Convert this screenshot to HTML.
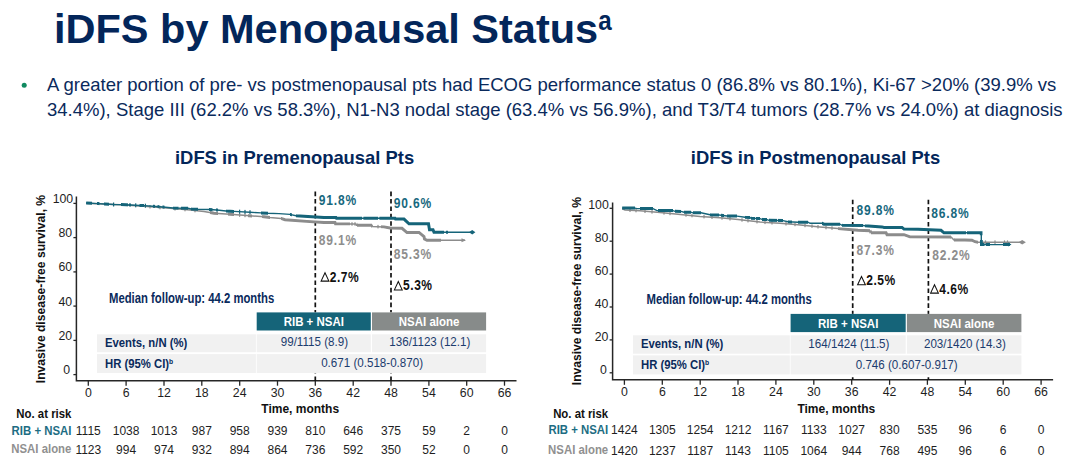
<!DOCTYPE html>
<html><head><meta charset="utf-8"><style>
html,body{margin:0;padding:0;background:#fff;width:1080px;height:476px;overflow:hidden}
svg{display:block;font-family:"Liberation Sans", sans-serif}
</style></head><body>
<svg width="1080" height="476" viewBox="0 0 1080 476">
<text x="54" y="43" font-size="41.5" font-weight="bold" fill="#03265a">iDFS by Menopausal Status</text>
<text transform="translate(598.3,30.2) scale(0.88,1)" font-size="27.5" font-weight="bold" fill="#03265a">a</text>
<circle cx="24.2" cy="85.2" r="2.5" fill="#108a60"/>
<text x="47" y="90.9" font-size="18.5" font-weight="normal" fill="#0a2a5c" text-anchor="start" >A greater portion of pre- vs postmenopausal pts had ECOG performance status 0 (86.8% vs 80.1%), Ki-67 &gt;20% (39.9% vs</text>
<text x="47" y="115.6" font-size="18.5" font-weight="normal" fill="#0a2a5c" text-anchor="start" >34.4%), Stage III (62.2% vs 58.3%), N1-N3 nodal stage (63.4% vs 56.9%), and T3/T4 tumors (28.7% vs 24.0%) at diagnosis</text>
<text x="175" y="164" font-size="18.4" font-weight="bold" fill="#03265a">iDFS in Premenopausal Pts</text>
<text x="690.8" y="164" font-size="18.4" font-weight="bold" fill="#03265a">iDFS in Postmenopausal Pts</text>
<path d="M76.4,196.6 L76.4,380.7 L516.5,380.7" fill="none" stroke="#262626" stroke-width="1.5"/>
<path d="M73.4,203.4 L76.4,203.4" stroke="#262626" stroke-width="1.3"/>
<text x="73.2" y="202.8" font-size="12.3" font-weight="normal" fill="#1e1e1e" text-anchor="end" >100</text>
<path d="M73.4,237.6 L76.4,237.6" stroke="#262626" stroke-width="1.3"/>
<text x="72.1" y="237.0" font-size="12.3" font-weight="normal" fill="#1e1e1e" text-anchor="end" >80</text>
<path d="M73.4,271.9 L76.4,271.9" stroke="#262626" stroke-width="1.3"/>
<text x="72.1" y="271.3" font-size="12.3" font-weight="normal" fill="#1e1e1e" text-anchor="end" >60</text>
<path d="M73.4,306.1 L76.4,306.1" stroke="#262626" stroke-width="1.3"/>
<text x="72.1" y="305.5" font-size="12.3" font-weight="normal" fill="#1e1e1e" text-anchor="end" >40</text>
<path d="M73.4,340.4 L76.4,340.4" stroke="#262626" stroke-width="1.3"/>
<text x="72.1" y="339.8" font-size="12.3" font-weight="normal" fill="#1e1e1e" text-anchor="end" >20</text>
<path d="M73.4,374.6 L76.4,374.6" stroke="#262626" stroke-width="1.3"/>
<text x="70.1" y="374.0" font-size="12.3" font-weight="normal" fill="#1e1e1e" text-anchor="end" >0</text>
<path d="M88.3,380.7 L88.3,385.7" stroke="#262626" stroke-width="1.3"/>
<text x="88.3" y="396.8" font-size="12.3" font-weight="normal" fill="#1e1e1e" text-anchor="middle" >0</text>
<path d="M126.1,380.7 L126.1,385.7" stroke="#262626" stroke-width="1.3"/>
<text x="126.1" y="396.8" font-size="12.3" font-weight="normal" fill="#1e1e1e" text-anchor="middle" >6</text>
<path d="M164.0,380.7 L164.0,385.7" stroke="#262626" stroke-width="1.3"/>
<text x="164.0" y="396.8" font-size="12.3" font-weight="normal" fill="#1e1e1e" text-anchor="middle" >12</text>
<path d="M201.8,380.7 L201.8,385.7" stroke="#262626" stroke-width="1.3"/>
<text x="201.8" y="396.8" font-size="12.3" font-weight="normal" fill="#1e1e1e" text-anchor="middle" >18</text>
<path d="M239.7,380.7 L239.7,385.7" stroke="#262626" stroke-width="1.3"/>
<text x="239.7" y="396.8" font-size="12.3" font-weight="normal" fill="#1e1e1e" text-anchor="middle" >24</text>
<path d="M277.5,380.7 L277.5,385.7" stroke="#262626" stroke-width="1.3"/>
<text x="277.5" y="396.8" font-size="12.3" font-weight="normal" fill="#1e1e1e" text-anchor="middle" >30</text>
<path d="M315.3,380.7 L315.3,385.7" stroke="#262626" stroke-width="1.3"/>
<text x="315.3" y="396.8" font-size="12.3" font-weight="normal" fill="#1e1e1e" text-anchor="middle" >36</text>
<path d="M353.2,380.7 L353.2,385.7" stroke="#262626" stroke-width="1.3"/>
<text x="353.2" y="396.8" font-size="12.3" font-weight="normal" fill="#1e1e1e" text-anchor="middle" >42</text>
<path d="M391.0,380.7 L391.0,385.7" stroke="#262626" stroke-width="1.3"/>
<text x="391.0" y="396.8" font-size="12.3" font-weight="normal" fill="#1e1e1e" text-anchor="middle" >48</text>
<path d="M428.9,380.7 L428.9,385.7" stroke="#262626" stroke-width="1.3"/>
<text x="428.9" y="396.8" font-size="12.3" font-weight="normal" fill="#1e1e1e" text-anchor="middle" >54</text>
<path d="M466.7,380.7 L466.7,385.7" stroke="#262626" stroke-width="1.3"/>
<text x="466.7" y="396.8" font-size="12.3" font-weight="normal" fill="#1e1e1e" text-anchor="middle" >60</text>
<path d="M504.5,380.7 L504.5,385.7" stroke="#262626" stroke-width="1.3"/>
<text x="504.5" y="396.8" font-size="12.3" font-weight="normal" fill="#1e1e1e" text-anchor="middle" >66</text>
<text x="300.2" y="413.3" font-size="12" font-weight="bold" fill="#111" text-anchor="middle" >Time, months</text>
<text transform="translate(44.7,289) rotate(-90)" x="0" y="0" font-size="12.1" font-weight="bold" fill="#111" text-anchor="middle">Invasive disease-free survival, %</text>
<path d="M315.3,191.6 L315.3,380.7" stroke="#111" stroke-width="1.7" stroke-dasharray="4.6 2.8"/>
<path d="M391.0,191.6 L391.0,380.7" stroke="#111" stroke-width="1.7" stroke-dasharray="4.6 2.8"/>
<path d="M86.2,203.2 L120.0,204.8 L144.0,206.3 L170.0,208.3 L190.0,210.0 L204.0,211.5 L214.0,213.2 L230.0,214.3 L240.0,215.1 L264.0,216.8 L270.0,217.5 L281.0,218.4 L285.0,219.7 L310.0,221.6 L324.0,222.5 L335.0,222.5 L335.5,223.9 L356.0,223.9 L356.5,225.3 L372.0,225.3 L372.5,226.4 L384.0,226.9 L390.0,228.0 L402.0,228.3 L407.0,232.5 L419.0,232.5 L424.0,236.6 L424.5,239.0 L427.0,240.3 L465.0,240.3" fill="none" stroke="#8c8c8c" stroke-width="1.5" stroke-linejoin="miter"/>
<clipPath id="c1"><rect x="210" y="150" width="8.0" height="150"/><rect x="228" y="150" width="6.0" height="150"/><rect x="248" y="150" width="4.0" height="150"/><rect x="262" y="150" width="8.0" height="150"/><rect x="281" y="150" width="55.0" height="150"/><rect x="336" y="150" width="14.0" height="150"/><rect x="357" y="150" width="15.0" height="150"/><rect x="381" y="150" width="60.0" height="150"/></clipPath>
<path d="M86.2,203.2 L120.0,204.8 L144.0,206.3 L170.0,208.3 L190.0,210.0 L204.0,211.5 L214.0,213.2 L230.0,214.3 L240.0,215.1 L264.0,216.8 L270.0,217.5 L281.0,218.4 L285.0,219.7 L310.0,221.6 L324.0,222.5 L335.0,222.5 L335.5,223.9 L356.0,223.9 L356.5,225.3 L372.0,225.3 L372.5,226.4 L384.0,226.9 L390.0,228.0 L402.0,228.3 L407.0,232.5 L419.0,232.5 L424.0,236.6 L424.5,239.0 L427.0,240.3 L465.0,240.3" fill="none" stroke="#8c8c8c" stroke-width="2.9" stroke-linejoin="miter" clip-path="url(#c1)"/>
<rect x="239.0" y="213.3" width="1.2" height="3.5" fill="#8c8c8c"/>
<rect x="244.4" y="213.7" width="1.2" height="3.5" fill="#8c8c8c"/>
<rect x="351.4" y="222.2" width="1.2" height="3.5" fill="#8c8c8c"/>
<rect x="354.4" y="222.2" width="1.2" height="3.5" fill="#8c8c8c"/>
<rect x="377.4" y="224.9" width="1.2" height="3.5" fill="#8c8c8c"/>
<rect x="149.4" y="205.0" width="1.2" height="3.5" fill="#8c8c8c"/>
<rect x="159.4" y="205.8" width="1.2" height="3.5" fill="#8c8c8c"/>
<rect x="174.4" y="207.0" width="1.2" height="3.5" fill="#8c8c8c"/>
<rect x="184.4" y="207.8" width="1.2" height="3.5" fill="#8c8c8c"/>
<rect x="194.4" y="208.8" width="1.2" height="3.5" fill="#8c8c8c"/>
<path d="M86.2,203.0 L98.0,203.6 L104.6,204.0 L114.0,204.5 L121.0,204.6 L131.0,205.0 L140.0,205.5 L144.0,205.6 L153.0,206.3 L163.0,207.0 L173.0,208.0 L188.0,208.2 L191.0,209.0 L198.0,209.3 L209.0,209.5 L217.0,210.0 L226.0,211.0 L234.0,211.4 L250.0,212.2 L261.0,212.9 L268.0,213.3 L279.0,213.6 L290.0,214.4 L296.0,215.8 L324.0,217.6 L336.0,217.6 L336.5,218.3 L395.0,218.3 L395.5,219.1 L404.0,219.1 L409.0,223.8 L428.5,223.8 L429.5,229.7 L433.0,229.7 L434.0,232.2 L472.2,232.2" fill="none" stroke="#156479" stroke-width="1.4" stroke-linejoin="miter"/>
<clipPath id="c2"><rect x="86" y="150" width="6.0" height="150"/><rect x="97" y="150" width="2.5" height="150"/><rect x="104" y="150" width="5.0" height="150"/><rect x="121" y="150" width="7.0" height="150"/><rect x="129" y="150" width="2.0" height="150"/><rect x="139.5" y="150" width="4.5" height="150"/><rect x="153" y="150" width="2.0" height="150"/><rect x="157.5" y="150" width="2.0" height="150"/><rect x="162.5" y="150" width="2.0" height="150"/><rect x="173" y="150" width="5.5" height="150"/><rect x="181" y="150" width="7.0" height="150"/><rect x="191" y="150" width="7.0" height="150"/><rect x="209" y="150" width="3.5" height="150"/><rect x="216" y="150" width="2.0" height="150"/><rect x="226" y="150" width="8.0" height="150"/><rect x="261" y="150" width="7.0" height="150"/><rect x="290" y="150" width="2.0" height="150"/><rect x="296" y="150" width="66.0" height="150"/><rect x="363.4" y="150" width="14.6" height="150"/><rect x="379.4" y="150" width="64.6" height="150"/><rect x="446" y="150" width="2.0" height="150"/></clipPath>
<path d="M86.2,203.0 L98.0,203.6 L104.6,204.0 L114.0,204.5 L121.0,204.6 L131.0,205.0 L140.0,205.5 L144.0,205.6 L153.0,206.3 L163.0,207.0 L173.0,208.0 L188.0,208.2 L191.0,209.0 L198.0,209.3 L209.0,209.5 L217.0,210.0 L226.0,211.0 L234.0,211.4 L250.0,212.2 L261.0,212.9 L268.0,213.3 L279.0,213.6 L290.0,214.4 L296.0,215.8 L324.0,217.6 L336.0,217.6 L336.5,218.3 L395.0,218.3 L395.5,219.1 L404.0,219.1 L409.0,223.8 L428.5,223.8 L429.5,229.7 L433.0,229.7 L434.0,232.2 L472.2,232.2" fill="none" stroke="#156479" stroke-width="3.0" stroke-linejoin="miter" clip-path="url(#c2)"/>
<rect x="113.0" y="202.5" width="1.2" height="4" fill="#156479"/>
<rect x="135.1" y="203.3" width="1.2" height="4" fill="#156479"/>
<rect x="144.8" y="203.7" width="1.2" height="4" fill="#156479"/>
<rect x="239.0" y="209.7" width="1.2" height="4" fill="#156479"/>
<rect x="244.4" y="209.9" width="1.2" height="4" fill="#156479"/>
<rect x="249.4" y="210.2" width="1.2" height="4" fill="#156479"/>
<path d="M469,232.2 L472.2,229.9 L475.4,232.2 L472.2,234.5 Z" fill="#156479"/>
<path d="M461.5,238.3 L466,240.3 L461.5,242.3 Z" fill="#8c8c8c"/>
<text transform="translate(318.7,205.2) scale(0.86,1)" font-size="14" font-weight="bold" fill="#17687e" letter-spacing="1.0">91.8%</text>
<text transform="translate(393.7,207.7) scale(0.86,1)" font-size="14" font-weight="bold" fill="#17687e" letter-spacing="1.0">90.6%</text>
<text transform="translate(318.7,245.3) scale(0.86,1)" font-size="14" font-weight="bold" fill="#8e8e8e" letter-spacing="1.0">89.1%</text>
<text transform="translate(393.7,259.2) scale(0.86,1)" font-size="14" font-weight="bold" fill="#8e8e8e" letter-spacing="1.0">85.3%</text>
<path d="M321.1,281.1 L328.9,281.1 L325.0,272.8 Z" fill="none" stroke="#111" stroke-width="1.05" stroke-linejoin="miter"/>
<text transform="translate(329.8,281.6) scale(0.86,1)" font-size="14" font-weight="bold" fill="#111" letter-spacing="0.6">2.7%</text>
<path d="M394.4,289.9 L402.2,289.9 L398.3,281.6 Z" fill="none" stroke="#111" stroke-width="1.05" stroke-linejoin="miter"/>
<text transform="translate(403.1,290.4) scale(0.86,1)" font-size="14" font-weight="bold" fill="#111" letter-spacing="0.6">5.3%</text>
<text transform="translate(109,302.6) scale(0.82,1)" x="0" y="0" font-size="13.8" font-weight="bold" fill="#0a2a5c" text-anchor="start">Median follow-up: 44.2 months</text>
<rect x="96" y="312.4" width="391.1" height="61.10000000000002" fill="#fff"/>
<rect x="256.7" y="312.4" width="114.10000000000002" height="18.100000000000023" fill="#156479"/>
<rect x="372" y="312.4" width="114.10000000000002" height="18.100000000000023" fill="#878b8a"/>
<rect x="97" y="334.3" width="158.89999999999998" height="17.899999999999977" fill="#f1f1f1"/>
<rect x="256.7" y="334.3" width="114.10000000000002" height="17.899999999999977" fill="#f1f1f1"/>
<rect x="372" y="334.3" width="114.10000000000002" height="17.899999999999977" fill="#f1f1f1"/>
<rect x="97" y="354.1" width="158.89999999999998" height="18.899999999999977" fill="#f1f1f1"/>
<rect x="256.7" y="354.1" width="229.40000000000003" height="18.899999999999977" fill="#f1f1f1"/>
<text transform="translate(313.8,326.0) scale(0.87,1)" x="0" y="0" font-size="13.2" font-weight="bold" fill="#fff" text-anchor="middle">RIB + NSAI</text>
<text transform="translate(429.1,326.0) scale(0.87,1)" x="0" y="0" font-size="13.2" font-weight="bold" fill="#fff" text-anchor="middle">NSAI alone</text>
<text transform="translate(105,346.6) scale(0.845,1)" x="0" y="0" font-size="13.4" font-weight="bold" fill="#0a2a5c" text-anchor="start">Events, n/N (%)</text>
<text transform="translate(105,367.8) scale(0.845,1)" x="0" y="0" font-size="13.4" font-weight="bold" fill="#0a2a5c" text-anchor="start">HR (95% CI)<tspan font-size="8" dy="-4.2">b</tspan></text>
<text transform="translate(314.4,345.7) scale(0.9,1)" x="0" y="0" font-size="12.9" font-weight="normal" fill="#1c3c6e" text-anchor="middle">99/1115 (8.9)</text>
<text transform="translate(429.8,345.7) scale(0.9,1)" x="0" y="0" font-size="12.9" font-weight="normal" fill="#1c3c6e" text-anchor="middle">136/1123 (12.1)</text>
<text transform="translate(372.1,367.3) scale(0.9,1)" x="0" y="0" font-size="12.9" font-weight="normal" fill="#1c3c6e" text-anchor="middle">0.671 (0.518-0.870)</text>
<text transform="translate(71.4,418.3) scale(0.95,1)" x="0" y="0" font-size="12" font-weight="bold" fill="#111" text-anchor="end">No. at risk</text>
<text transform="translate(71.4,434.5) scale(0.95,1)" x="0" y="0" font-size="12" font-weight="bold" fill="#1d6d83" text-anchor="end">RIB + NSAI</text>
<text transform="translate(71.4,452.6) scale(0.95,1)" x="0" y="0" font-size="12" font-weight="bold" fill="#909090" text-anchor="end">NSAI alone</text>
<text x="88.3" y="434.5" font-size="12" font-weight="normal" fill="#1e1e1e" text-anchor="middle" >1115</text>
<text x="88.3" y="453.6" font-size="12" font-weight="normal" fill="#1e1e1e" text-anchor="middle" >1123</text>
<text x="126.1" y="434.5" font-size="12" font-weight="normal" fill="#1e1e1e" text-anchor="middle" >1038</text>
<text x="126.1" y="453.6" font-size="12" font-weight="normal" fill="#1e1e1e" text-anchor="middle" >994</text>
<text x="164.0" y="434.5" font-size="12" font-weight="normal" fill="#1e1e1e" text-anchor="middle" >1013</text>
<text x="164.0" y="453.6" font-size="12" font-weight="normal" fill="#1e1e1e" text-anchor="middle" >974</text>
<text x="201.8" y="434.5" font-size="12" font-weight="normal" fill="#1e1e1e" text-anchor="middle" >987</text>
<text x="201.8" y="453.6" font-size="12" font-weight="normal" fill="#1e1e1e" text-anchor="middle" >932</text>
<text x="239.7" y="434.5" font-size="12" font-weight="normal" fill="#1e1e1e" text-anchor="middle" >958</text>
<text x="239.7" y="453.6" font-size="12" font-weight="normal" fill="#1e1e1e" text-anchor="middle" >894</text>
<text x="277.5" y="434.5" font-size="12" font-weight="normal" fill="#1e1e1e" text-anchor="middle" >939</text>
<text x="277.5" y="453.6" font-size="12" font-weight="normal" fill="#1e1e1e" text-anchor="middle" >864</text>
<text x="315.3" y="434.5" font-size="12" font-weight="normal" fill="#1e1e1e" text-anchor="middle" >810</text>
<text x="315.3" y="453.6" font-size="12" font-weight="normal" fill="#1e1e1e" text-anchor="middle" >736</text>
<text x="353.2" y="434.5" font-size="12" font-weight="normal" fill="#1e1e1e" text-anchor="middle" >646</text>
<text x="353.2" y="453.6" font-size="12" font-weight="normal" fill="#1e1e1e" text-anchor="middle" >592</text>
<text x="391.0" y="434.5" font-size="12" font-weight="normal" fill="#1e1e1e" text-anchor="middle" >375</text>
<text x="391.0" y="453.6" font-size="12" font-weight="normal" fill="#1e1e1e" text-anchor="middle" >350</text>
<text x="428.9" y="434.5" font-size="12" font-weight="normal" fill="#1e1e1e" text-anchor="middle" >59</text>
<text x="428.9" y="453.6" font-size="12" font-weight="normal" fill="#1e1e1e" text-anchor="middle" >52</text>
<text x="466.7" y="434.5" font-size="12" font-weight="normal" fill="#1e1e1e" text-anchor="middle" >2</text>
<text x="466.7" y="453.6" font-size="12" font-weight="normal" fill="#1e1e1e" text-anchor="middle" >0</text>
<text x="504.5" y="434.5" font-size="12" font-weight="normal" fill="#1e1e1e" text-anchor="middle" >0</text>
<text x="504.5" y="453.6" font-size="12" font-weight="normal" fill="#1e1e1e" text-anchor="middle" >0</text>
<path d="M612.6,202.6 L612.6,379.8 L1053.1,379.8" fill="none" stroke="#262626" stroke-width="1.5"/>
<path d="M609.6,208.3 L612.6,208.3" stroke="#262626" stroke-width="1.3"/>
<text x="608.8" y="209.1" font-size="12.3" font-weight="normal" fill="#1e1e1e" text-anchor="end" >100</text>
<path d="M609.6,241.2 L612.6,241.2" stroke="#262626" stroke-width="1.3"/>
<text x="608.4" y="242.0" font-size="12.3" font-weight="normal" fill="#1e1e1e" text-anchor="end" >80</text>
<path d="M609.6,274.1 L612.6,274.1" stroke="#262626" stroke-width="1.3"/>
<text x="608.4" y="274.9" font-size="12.3" font-weight="normal" fill="#1e1e1e" text-anchor="end" >60</text>
<path d="M609.6,307.0 L612.6,307.0" stroke="#262626" stroke-width="1.3"/>
<text x="608.4" y="307.8" font-size="12.3" font-weight="normal" fill="#1e1e1e" text-anchor="end" >40</text>
<path d="M609.6,339.9 L612.6,339.9" stroke="#262626" stroke-width="1.3"/>
<text x="608.4" y="340.7" font-size="12.3" font-weight="normal" fill="#1e1e1e" text-anchor="end" >20</text>
<path d="M609.6,372.8 L612.6,372.8" stroke="#262626" stroke-width="1.3"/>
<text x="606.9" y="373.6" font-size="12.3" font-weight="normal" fill="#1e1e1e" text-anchor="end" >0</text>
<path d="M624.4,379.8 L624.4,384.8" stroke="#262626" stroke-width="1.3"/>
<text x="624.4" y="395.6" font-size="12.3" font-weight="normal" fill="#1e1e1e" text-anchor="middle" >0</text>
<path d="M662.3,379.8 L662.3,384.8" stroke="#262626" stroke-width="1.3"/>
<text x="662.3" y="395.6" font-size="12.3" font-weight="normal" fill="#1e1e1e" text-anchor="middle" >6</text>
<path d="M700.2,379.8 L700.2,384.8" stroke="#262626" stroke-width="1.3"/>
<text x="700.2" y="395.6" font-size="12.3" font-weight="normal" fill="#1e1e1e" text-anchor="middle" >12</text>
<path d="M738.0,379.8 L738.0,384.8" stroke="#262626" stroke-width="1.3"/>
<text x="738.0" y="395.6" font-size="12.3" font-weight="normal" fill="#1e1e1e" text-anchor="middle" >18</text>
<path d="M775.9,379.8 L775.9,384.8" stroke="#262626" stroke-width="1.3"/>
<text x="775.9" y="395.6" font-size="12.3" font-weight="normal" fill="#1e1e1e" text-anchor="middle" >24</text>
<path d="M813.8,379.8 L813.8,384.8" stroke="#262626" stroke-width="1.3"/>
<text x="813.8" y="395.6" font-size="12.3" font-weight="normal" fill="#1e1e1e" text-anchor="middle" >30</text>
<path d="M851.7,379.8 L851.7,384.8" stroke="#262626" stroke-width="1.3"/>
<text x="851.7" y="395.6" font-size="12.3" font-weight="normal" fill="#1e1e1e" text-anchor="middle" >36</text>
<path d="M889.6,379.8 L889.6,384.8" stroke="#262626" stroke-width="1.3"/>
<text x="889.6" y="395.6" font-size="12.3" font-weight="normal" fill="#1e1e1e" text-anchor="middle" >42</text>
<path d="M927.4,379.8 L927.4,384.8" stroke="#262626" stroke-width="1.3"/>
<text x="927.4" y="395.6" font-size="12.3" font-weight="normal" fill="#1e1e1e" text-anchor="middle" >48</text>
<path d="M965.3,379.8 L965.3,384.8" stroke="#262626" stroke-width="1.3"/>
<text x="965.3" y="395.6" font-size="12.3" font-weight="normal" fill="#1e1e1e" text-anchor="middle" >54</text>
<path d="M1003.2,379.8 L1003.2,384.8" stroke="#262626" stroke-width="1.3"/>
<text x="1003.2" y="395.6" font-size="12.3" font-weight="normal" fill="#1e1e1e" text-anchor="middle" >60</text>
<path d="M1041.1,379.8 L1041.1,384.8" stroke="#262626" stroke-width="1.3"/>
<text x="1041.1" y="395.6" font-size="12.3" font-weight="normal" fill="#1e1e1e" text-anchor="middle" >66</text>
<text x="836.3" y="412.9" font-size="12" font-weight="bold" fill="#111" text-anchor="middle" >Time, months</text>
<text transform="translate(581,291.1) rotate(-90)" x="0" y="0" font-size="12.1" font-weight="bold" fill="#111" text-anchor="middle">Invasive disease-free survival, %</text>
<path d="M852.7,199.7 L852.7,379.8" stroke="#111" stroke-width="1.7" stroke-dasharray="4.6 2.8"/>
<path d="M928.4,199.7 L928.4,379.8" stroke="#111" stroke-width="1.7" stroke-dasharray="4.6 2.8"/>
<path d="M622.2,208.8 L625.0,210.0 L640.0,210.8 L660.0,212.5 L678.0,214.2 L700.0,216.4 L720.0,217.8 L738.0,219.5 L760.0,222.0 L780.0,223.3 L798.0,224.7 L820.0,227.0 L838.0,228.6 L858.0,230.3 L870.0,230.7 L871.0,232.7 L886.0,232.7 L887.0,234.7 L904.0,234.7 L910.0,236.9 L951.0,237.0 L954.0,240.0 L965.0,240.0 L972.0,240.3 L975.0,241.7 L978.0,242.2 L1022.0,242.2" fill="none" stroke="#8c8c8c" stroke-width="1.5" stroke-linejoin="miter"/>
<clipPath id="c3"><rect x="838" y="150" width="32.0" height="150"/><rect x="871" y="150" width="18.0" height="150"/><rect x="887" y="150" width="17.0" height="150"/><rect x="904" y="150" width="14.0" height="150"/><rect x="918" y="150" width="33.0" height="150"/><rect x="954" y="150" width="18.0" height="150"/><rect x="972" y="150" width="6.0" height="150"/></clipPath>
<path d="M622.2,208.8 L625.0,210.0 L640.0,210.8 L660.0,212.5 L678.0,214.2 L700.0,216.4 L720.0,217.8 L738.0,219.5 L760.0,222.0 L780.0,223.3 L798.0,224.7 L820.0,227.0 L838.0,228.6 L858.0,230.3 L870.0,230.7 L871.0,232.7 L886.0,232.7 L887.0,234.7 L904.0,234.7 L910.0,236.9 L951.0,237.0 L954.0,240.0 L965.0,240.0 L972.0,240.3 L975.0,241.7 L978.0,242.2 L1022.0,242.2" fill="none" stroke="#8c8c8c" stroke-width="2.9" stroke-linejoin="miter" clip-path="url(#c3)"/>
<rect x="629.4" y="208.5" width="1.2" height="3.5" fill="#8c8c8c"/>
<rect x="635.4" y="208.8" width="1.2" height="3.5" fill="#8c8c8c"/>
<rect x="644.4" y="209.5" width="1.2" height="3.5" fill="#8c8c8c"/>
<rect x="651.4" y="210.1" width="1.2" height="3.5" fill="#8c8c8c"/>
<rect x="663.4" y="211.1" width="1.2" height="3.5" fill="#8c8c8c"/>
<rect x="669.4" y="211.7" width="1.2" height="3.5" fill="#8c8c8c"/>
<rect x="685.4" y="213.2" width="1.2" height="3.5" fill="#8c8c8c"/>
<rect x="691.4" y="213.8" width="1.2" height="3.5" fill="#8c8c8c"/>
<rect x="703.4" y="214.9" width="1.2" height="3.5" fill="#8c8c8c"/>
<rect x="711.4" y="215.5" width="1.2" height="3.5" fill="#8c8c8c"/>
<rect x="721.4" y="216.2" width="1.2" height="3.5" fill="#8c8c8c"/>
<rect x="729.4" y="217.0" width="1.2" height="3.5" fill="#8c8c8c"/>
<rect x="741.4" y="218.2" width="1.2" height="3.5" fill="#8c8c8c"/>
<rect x="747.4" y="218.9" width="1.2" height="3.5" fill="#8c8c8c"/>
<rect x="756.4" y="219.9" width="1.2" height="3.5" fill="#8c8c8c"/>
<rect x="764.4" y="220.6" width="1.2" height="3.5" fill="#8c8c8c"/>
<rect x="771.4" y="221.0" width="1.2" height="3.5" fill="#8c8c8c"/>
<rect x="785.4" y="222.0" width="1.2" height="3.5" fill="#8c8c8c"/>
<rect x="794.4" y="222.7" width="1.2" height="3.5" fill="#8c8c8c"/>
<rect x="804.4" y="223.7" width="1.2" height="3.5" fill="#8c8c8c"/>
<rect x="811.4" y="224.4" width="1.2" height="3.5" fill="#8c8c8c"/>
<rect x="817.4" y="225.0" width="1.2" height="3.5" fill="#8c8c8c"/>
<rect x="825.4" y="225.8" width="1.2" height="3.5" fill="#8c8c8c"/>
<rect x="831.4" y="226.3" width="1.2" height="3.5" fill="#8c8c8c"/>
<rect x="984.9" y="240.4" width="1.2" height="3.5" fill="#8c8c8c"/>
<rect x="994.4" y="240.4" width="1.2" height="3.5" fill="#8c8c8c"/>
<rect x="1003.9" y="240.4" width="1.2" height="3.5" fill="#8c8c8c"/>
<rect x="1006.9" y="240.4" width="1.2" height="3.5" fill="#8c8c8c"/>
<path d="M622.2,208.1 L635.0,208.1 L637.0,208.6 L653.0,208.6 L657.0,210.6 L673.0,210.6 L675.0,211.3 L681.0,211.4 L684.0,212.2 L691.0,212.2 L693.0,212.8 L701.0,212.8 L710.0,214.7 L719.0,215.0 L727.0,216.0 L737.0,216.1 L745.0,217.3 L750.0,217.5 L751.0,218.3 L760.0,218.6 L762.0,219.4 L767.0,219.6 L769.0,220.3 L783.0,220.6 L788.0,221.7 L798.0,222.2 L808.0,222.2 L810.0,223.3 L822.0,223.3 L824.0,224.2 L840.0,224.2 L842.0,225.3 L863.0,225.5 L865.0,225.8 L882.0,226.9 L884.0,227.4 L902.0,227.4 L904.0,229.1 L918.0,229.3 L941.0,230.3 L944.0,232.8 L981.3,232.8 L981.3,244.6 L1010.0,244.6" fill="none" stroke="#156479" stroke-width="1.4" stroke-linejoin="miter"/>
<clipPath id="c4"><rect x="622" y="150" width="13.0" height="150"/><rect x="640" y="150" width="13.0" height="150"/><rect x="658" y="150" width="15.0" height="150"/><rect x="675" y="150" width="6.0" height="150"/><rect x="684" y="150" width="7.0" height="150"/><rect x="693" y="150" width="8.0" height="150"/><rect x="710" y="150" width="9.0" height="150"/><rect x="721" y="150" width="3.0" height="150"/><rect x="727" y="150" width="10.0" height="150"/><rect x="745" y="150" width="5.0" height="150"/><rect x="751" y="150" width="4.0" height="150"/><rect x="756" y="150" width="4.0" height="150"/><rect x="762" y="150" width="5.0" height="150"/><rect x="769" y="150" width="8.0" height="150"/><rect x="778" y="150" width="5.0" height="150"/><rect x="788" y="150" width="4.0" height="150"/><rect x="798" y="150" width="10.0" height="150"/><rect x="822" y="150" width="18.0" height="150"/><rect x="842" y="150" width="21.0" height="150"/><rect x="865" y="150" width="101.0" height="150"/><rect x="967" y="150" width="15.6" height="85.19999999999999"/><rect x="980" y="240" width="4.5" height="10"/><rect x="986" y="240" width="4.0" height="10"/><rect x="1003" y="240" width="7.0" height="10"/></clipPath>
<path d="M622.2,208.1 L635.0,208.1 L637.0,208.6 L653.0,208.6 L657.0,210.6 L673.0,210.6 L675.0,211.3 L681.0,211.4 L684.0,212.2 L691.0,212.2 L693.0,212.8 L701.0,212.8 L710.0,214.7 L719.0,215.0 L727.0,216.0 L737.0,216.1 L745.0,217.3 L750.0,217.5 L751.0,218.3 L760.0,218.6 L762.0,219.4 L767.0,219.6 L769.0,220.3 L783.0,220.6 L788.0,221.7 L798.0,222.2 L808.0,222.2 L810.0,223.3 L822.0,223.3 L824.0,224.2 L840.0,224.2 L842.0,225.3 L863.0,225.5 L865.0,225.8 L882.0,226.9 L884.0,227.4 L902.0,227.4 L904.0,229.1 L918.0,229.3 L941.0,230.3 L944.0,232.8 L981.3,232.8 L981.3,244.6 L1010.0,244.6" fill="none" stroke="#156479" stroke-width="3.0" stroke-linejoin="miter" clip-path="url(#c4)"/>
<path d="M1018.5,242.2 L1022.2,240 L1025.9,242.2 L1022.2,244.4 Z" fill="#8c8c8c"/>
<path d="M1008,242.6 L1011.5,244.6 L1008,246.6 Z" fill="#156479"/>
<text transform="translate(856.5,215) scale(0.86,1)" font-size="14" font-weight="bold" fill="#17687e" letter-spacing="1.0">89.8%</text>
<text transform="translate(931.2,218.2) scale(0.86,1)" font-size="14" font-weight="bold" fill="#17687e" letter-spacing="1.0">86.8%</text>
<text transform="translate(856.5,255.2) scale(0.86,1)" font-size="14" font-weight="bold" fill="#8e8e8e" letter-spacing="1.0">87.3%</text>
<text transform="translate(932.2,259.8) scale(0.86,1)" font-size="14" font-weight="bold" fill="#8e8e8e" letter-spacing="1.0">82.2%</text>
<path d="M857.6,284.8 L865.4,284.8 L861.5,276.5 Z" fill="none" stroke="#111" stroke-width="1.05" stroke-linejoin="miter"/>
<text transform="translate(866.3,285.3) scale(0.86,1)" font-size="14" font-weight="bold" fill="#111" letter-spacing="0.6">2.5%</text>
<path d="M930.6,293.1 L938.4,293.1 L934.5,284.8 Z" fill="none" stroke="#111" stroke-width="1.05" stroke-linejoin="miter"/>
<text transform="translate(939.3,293.6) scale(0.86,1)" font-size="14" font-weight="bold" fill="#111" letter-spacing="0.6">4.6%</text>
<text transform="translate(646.5,304) scale(0.82,1)" x="0" y="0" font-size="13.8" font-weight="bold" fill="#0a2a5c" text-anchor="start">Median follow-up: 44.2 months</text>
<rect x="632" y="313.9" width="390.4" height="61.0" fill="#fff"/>
<rect x="790.6" y="313.9" width="115.10000000000002" height="18.200000000000045" fill="#156479"/>
<rect x="906.9" y="313.9" width="114.5" height="18.200000000000045" fill="#878b8a"/>
<rect x="633" y="335.3" width="156.8" height="18.399999999999977" fill="#f1f1f1"/>
<rect x="790.6" y="335.3" width="115.10000000000002" height="18.399999999999977" fill="#f1f1f1"/>
<rect x="906.9" y="335.3" width="114.5" height="18.399999999999977" fill="#f1f1f1"/>
<rect x="633" y="355.4" width="156.8" height="19.0" fill="#f1f1f1"/>
<rect x="790.6" y="355.4" width="230.79999999999995" height="19.0" fill="#f1f1f1"/>
<text transform="translate(848.2,327.6) scale(0.87,1)" x="0" y="0" font-size="13.2" font-weight="bold" fill="#fff" text-anchor="middle">RIB + NSAI</text>
<text transform="translate(964.1,327.6) scale(0.87,1)" x="0" y="0" font-size="13.2" font-weight="bold" fill="#fff" text-anchor="middle">NSAI alone</text>
<text transform="translate(641,348.1) scale(0.845,1)" x="0" y="0" font-size="13.4" font-weight="bold" fill="#0a2a5c" text-anchor="start">Events, n/N (%)</text>
<text transform="translate(641,369.2) scale(0.845,1)" x="0" y="0" font-size="13.4" font-weight="bold" fill="#0a2a5c" text-anchor="start">HR (95% CI)<tspan font-size="8" dy="-4.2">b</tspan></text>
<text transform="translate(848.9,347.9) scale(0.9,1)" x="0" y="0" font-size="12.9" font-weight="normal" fill="#1c3c6e" text-anchor="middle">164/1424 (11.5)</text>
<text transform="translate(964.9,347.9) scale(0.9,1)" x="0" y="0" font-size="12.9" font-weight="normal" fill="#1c3c6e" text-anchor="middle">203/1420 (14.3)</text>
<text transform="translate(906.7,368.7) scale(0.9,1)" x="0" y="0" font-size="12.9" font-weight="normal" fill="#1c3c6e" text-anchor="middle">0.746 (0.607-0.917)</text>
<text transform="translate(608.2,418.3) scale(0.95,1)" x="0" y="0" font-size="12" font-weight="bold" fill="#111" text-anchor="end">No. at risk</text>
<text transform="translate(608.2,434.2) scale(0.95,1)" x="0" y="0" font-size="12" font-weight="bold" fill="#1d6d83" text-anchor="end">RIB + NSAI</text>
<text transform="translate(608.2,454.2) scale(0.95,1)" x="0" y="0" font-size="12" font-weight="bold" fill="#909090" text-anchor="end">NSAI alone</text>
<text x="624.4" y="434.2" font-size="12" font-weight="normal" fill="#1e1e1e" text-anchor="middle" >1424</text>
<text x="624.4" y="455.2" font-size="12" font-weight="normal" fill="#1e1e1e" text-anchor="middle" >1420</text>
<text x="662.3" y="434.2" font-size="12" font-weight="normal" fill="#1e1e1e" text-anchor="middle" >1305</text>
<text x="662.3" y="455.2" font-size="12" font-weight="normal" fill="#1e1e1e" text-anchor="middle" >1237</text>
<text x="700.2" y="434.2" font-size="12" font-weight="normal" fill="#1e1e1e" text-anchor="middle" >1254</text>
<text x="700.2" y="455.2" font-size="12" font-weight="normal" fill="#1e1e1e" text-anchor="middle" >1187</text>
<text x="738.0" y="434.2" font-size="12" font-weight="normal" fill="#1e1e1e" text-anchor="middle" >1212</text>
<text x="738.0" y="455.2" font-size="12" font-weight="normal" fill="#1e1e1e" text-anchor="middle" >1143</text>
<text x="775.9" y="434.2" font-size="12" font-weight="normal" fill="#1e1e1e" text-anchor="middle" >1167</text>
<text x="775.9" y="455.2" font-size="12" font-weight="normal" fill="#1e1e1e" text-anchor="middle" >1105</text>
<text x="813.8" y="434.2" font-size="12" font-weight="normal" fill="#1e1e1e" text-anchor="middle" >1133</text>
<text x="813.8" y="455.2" font-size="12" font-weight="normal" fill="#1e1e1e" text-anchor="middle" >1064</text>
<text x="851.7" y="434.2" font-size="12" font-weight="normal" fill="#1e1e1e" text-anchor="middle" >1027</text>
<text x="851.7" y="455.2" font-size="12" font-weight="normal" fill="#1e1e1e" text-anchor="middle" >944</text>
<text x="889.6" y="434.2" font-size="12" font-weight="normal" fill="#1e1e1e" text-anchor="middle" >830</text>
<text x="889.6" y="455.2" font-size="12" font-weight="normal" fill="#1e1e1e" text-anchor="middle" >768</text>
<text x="927.4" y="434.2" font-size="12" font-weight="normal" fill="#1e1e1e" text-anchor="middle" >535</text>
<text x="927.4" y="455.2" font-size="12" font-weight="normal" fill="#1e1e1e" text-anchor="middle" >495</text>
<text x="965.3" y="434.2" font-size="12" font-weight="normal" fill="#1e1e1e" text-anchor="middle" >96</text>
<text x="965.3" y="455.2" font-size="12" font-weight="normal" fill="#1e1e1e" text-anchor="middle" >96</text>
<text x="1003.2" y="434.2" font-size="12" font-weight="normal" fill="#1e1e1e" text-anchor="middle" >6</text>
<text x="1003.2" y="455.2" font-size="12" font-weight="normal" fill="#1e1e1e" text-anchor="middle" >6</text>
<text x="1041.1" y="434.2" font-size="12" font-weight="normal" fill="#1e1e1e" text-anchor="middle" >0</text>
<text x="1041.1" y="455.2" font-size="12" font-weight="normal" fill="#1e1e1e" text-anchor="middle" >0</text>
</svg>
</body></html>
